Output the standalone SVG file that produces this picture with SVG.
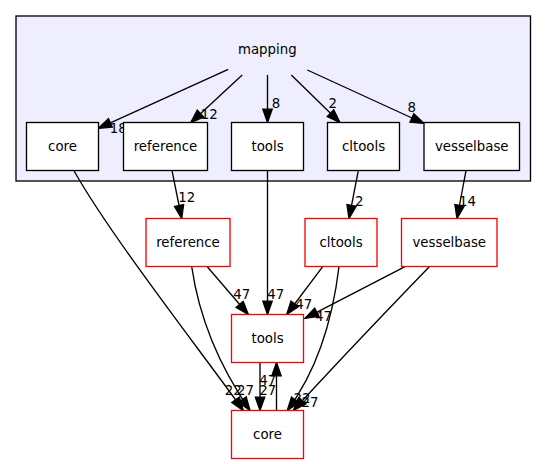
<svg xmlns="http://www.w3.org/2000/svg" width="547" height="464" viewBox="0 0 547 464">
<style>
text{font-family:"DejaVu Sans","Liberation Sans",sans-serif;font-size:13.33px;fill:#000;text-anchor:middle}
.n rect{fill:#fff;stroke:#000;stroke-width:1.33}
.o rect{fill:#fff;stroke:#ff0000;stroke-width:1.33}
.e path{fill:none;stroke:#000;stroke-width:1.33;marker-end:url(#ah)}
</style>
<defs>
<marker id="ah" markerUnits="userSpaceOnUse" markerWidth="14" markerHeight="10" refX="13.3" refY="4.67" orient="auto" overflow="visible">
<path d="M0,0 L13.3,4.67 L0,9.33 Z" fill="#000" stroke="#000" stroke-width="1.33"/>
</marker>
</defs>
<rect x="16" y="16" width="514.5" height="165" fill="#eeeeff" stroke="#000" stroke-width="1.33"/>
<text x="267.3" y="54">mapping</text>
<g id="edges" class="e">
<path d="M228.2,69.3 L98.3,128.3"/>
<text x="118.3" y="132.5">18</text>
<path d="M242.2,75 L190.7,122.7"/>
<text x="209.2" y="119.3">12</text>
<path d="M267.5,75 L267.5,122.5"/>
<text x="276" y="108.3">8</text>
<path d="M291.3,75 L340,122.5"/>
<text x="332.7" y="108.3">2</text>
<path d="M307.3,70 L424,123.5"/>
<text x="411.7" y="111.7">8</text>
<path d="M74,170.7 C110,235 200,350 243.3,410.5"/>
<text x="233.3" y="395">22</text>
<path d="M172,170.7 L181.7,218.5"/>
<text x="186.7" y="201.7">12</text>
<path d="M267.5,170.7 L267.5,314.5"/>
<text x="275.8" y="299.3">47</text>
<path d="M358.3,170.7 L349,218.5"/>
<text x="359.3" y="206">2</text>
<path d="M466,170.7 L457,218.5"/>
<text x="467.5" y="206">14</text>
<path d="M207.3,266.7 L248.3,314.5"/>
<text x="241.8" y="299.3">47</text>
<path d="M191.7,266.7 C198,310 215,360 250,410.5"/>
<text x="245.5" y="394.5">27</text>
<path d="M322.7,266.7 L286.7,314.5"/>
<text x="303.8" y="309.3">47</text>
<path d="M339,266.7 C335,300 325,360 287.3,410.5"/>
<text x="302" y="402.7">22</text>
<path d="M405,266.7 L305,318.3"/>
<text x="323.5" y="321">47</text>
<path d="M429.3,266.7 C400,297 335,365 293.3,410.5"/>
<text x="310" y="406.7">27</text>
<path d="M260,362.5 L260,410.5"/>
<text x="267.8" y="395">27</text>
<path d="M276.5,410.5 L276.5,362.5"/>
<text x="267.8" y="385">47</text>
</g>
<g id="n_core" class="n"><rect x="26.5" y="122.5" width="72" height="48"/><text x="62.5" y="151">core</text></g>
<g id="n_reference" class="n"><rect x="123.5" y="122.5" width="84" height="48"/><text x="165.5" y="151">reference</text></g>
<g id="n_tools" class="n"><rect x="231.5" y="122.5" width="72" height="48"/><text x="267.5" y="151">tools</text></g>
<g id="n_cltools" class="n"><rect x="327.5" y="122.5" width="72" height="48"/><text x="363.5" y="151">cltools</text></g>
<g id="n_vesselbase" class="n"><rect x="424" y="122.5" width="95.5" height="48"/><text x="471.75" y="151">vesselbase</text></g>
<g id="o_reference" class="o"><rect x="146" y="218.5" width="84" height="48"/><text x="188" y="247">reference</text></g>
<g id="o_cltools" class="o"><rect x="305" y="218.5" width="72" height="48"/><text x="341" y="247">cltools</text></g>
<g id="o_vesselbase" class="o"><rect x="401.5" y="218.5" width="95.5" height="48"/><text x="449.25" y="247">vesselbase</text></g>
<g id="o_tools" class="o"><rect x="231.5" y="314.5" width="72" height="48"/><text x="267.5" y="343">tools</text></g>
<g id="o_core" class="o"><rect x="231.5" y="410.5" width="72" height="48"/><text x="267.5" y="439">core</text></g>
</svg>
